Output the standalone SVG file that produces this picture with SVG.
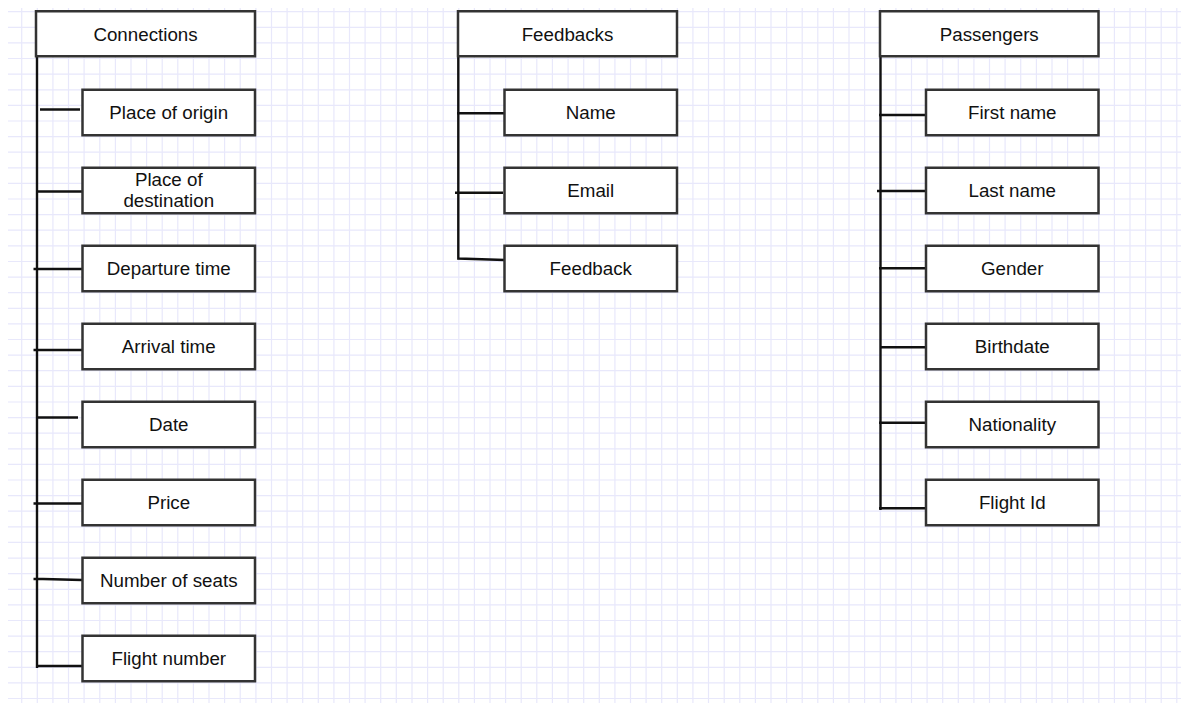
<svg xmlns="http://www.w3.org/2000/svg" width="1186" height="706" viewBox="0 0 1186 706">
<defs>
<style>
.grid{fill:none;stroke:#e8e8fb;stroke-width:1.2}
.box{fill:#fff;stroke:#333;stroke-width:2.5}
.lbl{font-family:"Liberation Sans",Arial,sans-serif;font-size:18.75px;fill:#111;text-anchor:middle}
.con{fill:none;stroke:#111;stroke-width:2.4;stroke-linecap:butt}
</style>
</defs>
<rect width="1186" height="706" fill="#fff"/>
<g id="grid">
<path class="grid" d="M21.7 8V703M37.3 8V703M52.9 8V703M68.5 8V703M84.1 8V703M99.8 8V703M115.4 8V703M131 8V703M146.6 8V703M162.2 8V703M177.8 8V703M193.4 8V703M209 8V703M224.6 8V703M240.2 8V703M255.9 8V703M271.5 8V703M287.1 8V703M302.7 8V703M318.3 8V703M333.9 8V703M349.5 8V703M365.1 8V703M380.7 8V703M396.3 8V703M412 8V703M427.6 8V703M443.2 8V703M458.8 8V703M474.4 8V703M490 8V703M505.6 8V703M521.2 8V703M536.8 8V703M552.4 8V703M568.1 8V703M583.7 8V703M599.3 8V703M614.9 8V703M630.5 8V703M646.1 8V703M661.7 8V703M677.3 8V703M692.9 8V703M708.5 8V703M724.2 8V703M739.8 8V703M755.4 8V703M771 8V703M786.6 8V703M802.2 8V703M817.8 8V703M833.4 8V703M849 8V703M864.6 8V703M880.3 8V703M895.9 8V703M911.5 8V703M927.1 8V703M942.7 8V703M958.3 8V703M973.9 8V703M989.5 8V703M1005.1 8V703M1020.7 8V703M1036.4 8V703M1052 8V703M1067.6 8V703M1083.2 8V703M1098.8 8V703M1114.4 8V703M1130 8V703M1145.6 8V703M1161.2 8V703M1176.8 8V703"/>
<path class="grid" d="M8 11.7H1181M8 27.3H1181M8 42.9H1181M8 58.5H1181M8 74.1H1181M8 89.8H1181M8 105.4H1181M8 121H1181M8 136.6H1181M8 152.2H1181M8 167.8H1181M8 183.4H1181M8 199H1181M8 214.6H1181M8 230.2H1181M8 245.9H1181M8 261.5H1181M8 277.1H1181M8 292.7H1181M8 308.3H1181M8 323.9H1181M8 339.5H1181M8 355.1H1181M8 370.7H1181M8 386.3H1181M8 402H1181M8 417.6H1181M8 433.2H1181M8 448.8H1181M8 464.4H1181M8 480H1181M8 495.6H1181M8 511.2H1181M8 526.8H1181M8 542.4H1181M8 558.1H1181M8 573.7H1181M8 589.3H1181M8 604.9H1181M8 620.5H1181M8 636.1H1181M8 651.7H1181M8 667.3H1181M8 682.9H1181M8 698.5H1181"/>
</g>
<g id="connectors">
<path class="con" d="M37 56V668"/>
<path class="con" d="M40 109.5H80"/>
<path class="con" d="M38 191.5H82"/>
<path class="con" d="M33.5 269H82"/>
<path class="con" d="M33.5 350H82"/>
<path class="con" d="M38 417.5H78"/>
<path class="con" d="M33.5 503.5H82"/>
<path class="con" d="M33.5 579H43L82 580"/>
<path class="con" d="M37 666H82"/>
<path class="con" d="M458.3 56V258.5L505 260"/>
<path class="con" d="M457 113.3H505"/>
<path class="con" d="M455 192.7H503"/>
<path class="con" d="M880.5 56V510"/>
<path class="con" d="M879 115H926.5"/>
<path class="con" d="M877 191H926.5"/>
<path class="con" d="M879 268.3H926.5"/>
<path class="con" d="M880 347.3H928"/>
<path class="con" d="M879 422.7H926"/>
<path class="con" d="M879 508.3H925"/>
</g>
<g id="connections">
<rect class="box" x="36" y="11.25" width="219" height="45"/>
<text class="lbl" x="145.5" y="40.75">Connections</text>
</g>
<g id="place-of-origin">
<rect class="box" x="82.5" y="89.75" width="172.5" height="45.5"/>
<text class="lbl" x="168.75" y="118.5">Place of origin</text>
</g>
<g id="place-of-destination">
<rect class="box" x="82.5" y="167.75" width="172.5" height="45.5"/>
<text class="lbl" x="168.75" y="186">Place of</text>
<text class="lbl" x="168.75" y="206.5">destination</text>
</g>
<g id="departure-time">
<rect class="box" x="82.5" y="245.75" width="172.5" height="45.5"/>
<text class="lbl" x="168.75" y="274.5">Departure time</text>
</g>
<g id="arrival-time">
<rect class="box" x="82.5" y="323.75" width="172.5" height="45.5"/>
<text class="lbl" x="168.75" y="352.5">Arrival time</text>
</g>
<g id="date">
<rect class="box" x="82.5" y="401.75" width="172.5" height="45.5"/>
<text class="lbl" x="168.75" y="430.5">Date</text>
</g>
<g id="price">
<rect class="box" x="82.5" y="479.75" width="172.5" height="45.5"/>
<text class="lbl" x="168.75" y="508.5">Price</text>
</g>
<g id="number-of-seats">
<rect class="box" x="82.5" y="557.75" width="172.5" height="45.5"/>
<text class="lbl" x="168.75" y="586.5">Number of seats</text>
</g>
<g id="flight-number">
<rect class="box" x="82.5" y="635.75" width="172.5" height="45.5"/>
<text class="lbl" x="168.75" y="664.5">Flight number</text>
</g>
<g id="feedbacks">
<rect class="box" x="458" y="11.25" width="219" height="45"/>
<text class="lbl" x="567.5" y="40.75">Feedbacks</text>
</g>
<g id="fb-name">
<rect class="box" x="504.5" y="89.75" width="172.5" height="45.5"/>
<text class="lbl" x="590.75" y="118.5">Name</text>
</g>
<g id="fb-email">
<rect class="box" x="504.5" y="167.75" width="172.5" height="45.5"/>
<text class="lbl" x="590.75" y="196.5">Email</text>
</g>
<g id="fb-feedback">
<rect class="box" x="504.5" y="245.75" width="172.5" height="45.5"/>
<text class="lbl" x="590.75" y="274.5">Feedback</text>
</g>
<g id="passengers">
<rect class="box" x="880" y="11.25" width="218.5" height="45"/>
<text class="lbl" x="989.25" y="40.75">Passengers</text>
</g>
<g id="first-name">
<rect class="box" x="926" y="89.75" width="172.5" height="45.5"/>
<text class="lbl" x="1012.25" y="118.5">First name</text>
</g>
<g id="last-name">
<rect class="box" x="926" y="167.75" width="172.5" height="45.5"/>
<text class="lbl" x="1012.25" y="196.5">Last name</text>
</g>
<g id="gender">
<rect class="box" x="926" y="245.75" width="172.5" height="45.5"/>
<text class="lbl" x="1012.25" y="274.5">Gender</text>
</g>
<g id="birthdate">
<rect class="box" x="926" y="323.75" width="172.5" height="45.5"/>
<text class="lbl" x="1012.25" y="352.5">Birthdate</text>
</g>
<g id="nationality">
<rect class="box" x="926" y="401.75" width="172.5" height="45.5"/>
<text class="lbl" x="1012.25" y="430.5">Nationality</text>
</g>
<g id="flight-id">
<rect class="box" x="926" y="479.75" width="172.5" height="45.5"/>
<text class="lbl" x="1012.25" y="508.5">Flight Id</text>
</g>
</svg>
